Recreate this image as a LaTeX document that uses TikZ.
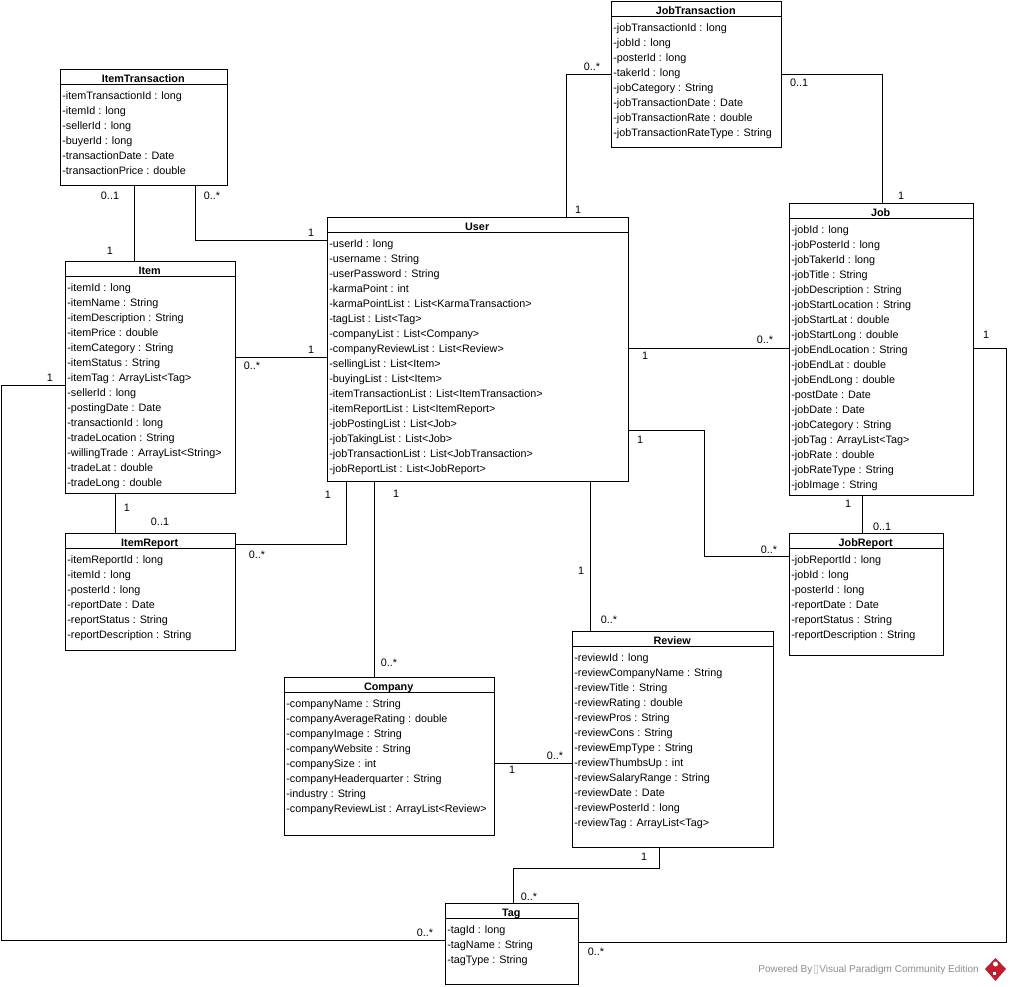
\documentclass[tikz,border=0pt]{standalone}
\usepackage{fontspec}
\setmainfont{Liberation Sans}
\usetikzlibrary{positioning}
\definecolor{logored}{RGB}{190,30,45}
\definecolor{powergray}{RGB}{140,140,140}

\tikzset{
	classbox/.style={draw, line width=.75pt, rectangle, inner sep=0pt, outer sep=0pt, anchor=north west},
	classtitle/.style={font=\fontsize{8.1}{11.25}\selectfont\bfseries, inner sep=0pt, outer sep=0pt, text height=6pt, text depth=1.7pt, minimum height=7.75pt, xshift=-.6pt},
	attrlist/.style={font=\fontsize{8.1}{11.25}\selectfont, align=left, inner sep=0pt},
	mult/.style={font=\fontsize{8.1}{10}\selectfont, inner sep=0pt},
	assoc/.style={line width=.75pt}
}

\begin{document}
\begin{tikzpicture}[x=.75pt,y=-.75pt,node distance=0pt]
	\useasboundingbox (0,0) rectangle (1011,987);
	
	% item transaction
	\node[classbox, minimum width=125.25pt, minimum height=87pt] (itemtrans) at (60.5,69.5) {};
	\node[classtitle, below=3.5pt of itemtrans.north] (itemtranstitle) {ItemTransaction};
	\node[attrlist, below right=16.6pt and 1.2pt of itemtrans.north west] (itemtransattrs) {-itemTransactionId : long\\-itemId : long\\-sellerId : long\\-buyerId : long\\-transactionDate : Date\\-transactionPrice : double};
	\draw[assoc] (itemtrans.west |- itemtranstitle.south) -- (itemtrans.east |- itemtranstitle.south);
	
	% item
	\node[classbox, minimum width=127.5pt, minimum height=174pt] (item) at (65.5,261.5) {};
	\node[classtitle, below=3.5pt of item.north] (itemtitle) {Item};
	\node[attrlist, below right=16.6pt and 1.2pt of item.north west] (itemattrs) {-itemId : long\\-itemName : String\\-itemDescription : String\\-itemPrice : double\\-itemCategory : String\\-itemStatus : String\\-itemTag : ArrayList<Tag>\\-sellerId : long\\-postingDate : Date\\-transactionId : long\\-tradeLocation : String\\-willingTrade : ArrayList<String>\\-tradeLat : double\\-tradeLong : double};
	\draw[assoc] (item.west |- itemtitle.south) -- (item.east |- itemtitle.south);
	
	% item report
	\node[classbox, minimum width=127.5pt, minimum height=87.75pt] (itemreport) at (65.5,533.5) {};
	\node[classtitle, below=3.5pt of itemreport.north] (itemreporttitle) {ItemReport};
	\node[attrlist, below right=16.6pt and 1.2pt of itemreport.north west] (itemreportattrs) {-itemReportId : long\\-itemId : long\\-posterId : long\\-reportDate : Date\\-reportStatus : String\\-reportDescription : String};
	\draw[assoc] (itemreport.west |- itemreporttitle.south) -- (itemreport.east |- itemreporttitle.south);
	
	% user
	\node[classbox, minimum width=225.75pt, minimum height=198pt] (user) at (327.5,217.5) {};
	\node[classtitle, below=3.5pt of user.north] (usertitle) {User};
	\node[attrlist, below right=16.6pt and 1.2pt of user.north west] (userattrs) {-userId : long\\-username : String\\-userPassword : String\\-karmaPoint : int\\-karmaPointList : List<KarmaTransaction>\\-tagList : List<Tag>\\-companyList : List<Company>\\-companyReviewList : List<Review>\\-sellingList : List<Item>\\-buyingList : List<Item>\\-itemTransactionList : List<ItemTransaction>\\-itemReportList : List<ItemReport>\\-jobPostingList : List<Job>\\-jobTakingList : List<Job>\\-jobTransactionList : List<JobTransaction>\\-jobReportList : List<JobReport>};
	\draw[assoc] (user.west |- usertitle.south) -- (user.east |- usertitle.south);
	
	% job transaction
	\node[classbox, minimum width=127.5pt, minimum height=109.5pt] (jobtrans) at (611.5,1.5) {};
	\node[classtitle, below=3.5pt of jobtrans.north] (jobtranstitle) {JobTransaction};
	\node[attrlist, below right=16.6pt and 1.2pt of jobtrans.north west] (jobtransattrs) {-jobTransactionId : long\\-jobId : long\\-posterId : long\\-takerId : long\\-jobCategory : String\\-jobTransactionDate : Date\\-jobTransactionRate : double\\-jobTransactionRateType : String};
	\draw[assoc] (jobtrans.west |- jobtranstitle.south) -- (jobtrans.east |- jobtranstitle.south);
	
	% job
	\node[classbox, minimum width=138pt, minimum height=219pt] (job) at (789.5,203.5) {};
	\node[classtitle, below=3.5pt of job.north] (jobtitle) {Job};
	\node[attrlist, below right=16.6pt and 1.2pt of job.north west] (jobattrs) {-jobId : long\\-jobPosterId : long\\-jobTakerId : long\\-jobTitle : String\\-jobDescription : String\\-jobStartLocation : String\\-jobStartLat : double\\-jobStartLong : double\\-jobEndLocation : String\\-jobEndLat : double\\-jobEndLong : double\\-postDate : Date\\-jobDate : Date\\-jobCategory : String\\-jobTag : ArrayList<Tag>\\-jobRate : double\\-jobRateType : String\\-jobImage : String};
	\draw[assoc] (job.west |- jobtitle.south) -- (job.east |- jobtitle.south);
	
	% job report
	\node[classbox, minimum width=115.5pt, minimum height=91.5pt] (jobreport) at (789.5,533.5) {};
	\node[classtitle, below=3.5pt of jobreport.north] (jobreporttitle) {JobReport};
	\node[attrlist, below right=16.6pt and 1.2pt of jobreport.north west] (jobreportattrs) {-jobReportId : long\\-jobId : long\\-posterId : long\\-reportDate : Date\\-reportStatus : String\\-reportDescription : String};
	\draw[assoc] (jobreport.west |- jobreporttitle.south) -- (jobreport.east |- jobreporttitle.south);
	
	% company
	\node[classbox, minimum width=157.5pt, minimum height=118.5pt] (company) at (284.5,677.5) {};
	\node[classtitle, below=3.5pt of company.north] (companytitle) {Company};
	\node[attrlist, below right=16.6pt and 1.2pt of company.north west] (companyattrs) {-companyName : String\\-companyAverageRating : double\\-companyImage : String\\-companyWebsite : String\\-companySize : int\\-companyHeaderquarter : String\\-industry : String\\-companyReviewList : ArrayList<Review>};
	\draw[assoc] (company.west |- companytitle.south) -- (company.east |- companytitle.south);
	
	% review
	\node[classbox, minimum width=150.75pt, minimum height=162pt] (review) at (572.5,631.5) {};
	\node[classtitle, below=3.5pt of review.north] (reviewtitle) {Review};
	\node[attrlist, below right=16.6pt and 1.2pt of review.north west] (reviewattrs) {-reviewId : long\\-reviewCompanyName : String\\-reviewTitle : String\\-reviewRating : double\\-reviewPros : String\\-reviewCons : String\\-reviewEmpType : String\\-reviewThumbsUp : int\\-reviewSalaryRange : String\\-reviewDate : Date\\-reviewPosterId : long\\-reviewTag : ArrayList<Tag>};
	\draw[assoc] (review.west |- reviewtitle.south) -- (review.east |- reviewtitle.south);
	
	% tag
	\node[classbox, minimum width=99.75pt, minimum height=60.75pt] (tag) at (445.5,903.5) {};
	\node[classtitle, below=3.5pt of tag.north] (tagtitle) {Tag};
	\node[attrlist, below right=16.6pt and 1.2pt of tag.north west] (tagattrs) {-tagId : long\\-tagName : String\\-tagType : String};
	\draw[assoc] (tag.west |- tagtitle.south) -- (tag.east |- tagtitle.south);
	
	% connectors
	\draw[assoc] (itemtrans.south -| 134.5,0) -- (item.north -| 134.5,0);
	\draw[assoc] (itemtrans.south -| 195.5,0) |- (user.west |- 0,240.5);
	\draw[assoc] (item.east |- 0,357.5) -- (user.west |- 0,357.5);
	\draw[assoc] (item.south -| 115.5,0) -- (itemreport.north -| 115.5,0);
	\draw[assoc] (itemreport.east |- 0,544.5) -| (user.south -| 346.5,0);
	\draw[assoc] (user.north -| 566.5,0) |- (jobtrans.west |- 0,74.5);
	\draw[assoc] (jobtrans.east |- 0,74.5) -| (job.north -| 882.5,0);
	\draw[assoc] (user.east |- 0,348.5) -- (job.west |- 0,348.5);
	\draw[assoc] (user.east |- 0,430.5) -- (704.5,430.5) -- (704.5,556.5) -- (jobreport.west |- 0,556.5);
	\draw[assoc] (user.south -| 374.5,0) -- (company.north -| 374.5,0);
	\draw[assoc] (user.south -| 590.5,0) -- (review.north -| 590.5,0);
	\draw[assoc] (company.east |- 0,763.5) -- (review.west |- 0,763.5);
	\draw[assoc] (job.south -| 862.5,0) -- (jobreport.north -| 862.5,0);
	\draw[assoc] (review.south -| 659.5,0) -- (659.5,868.5) -- (513.5,868.5) -- (tag.north -| 513.5,0);
	\draw[assoc] (item.west |- 0,385.5) -- (1.5,385.5) -- (1.5,940.5) -- (tag.west |- 0,940.5);
	\draw[assoc] (job.east |- 0,348.5) -- (1006.5,348.5) -- (1006.5,942.5) -- (tag.east |- 0,942.5);
	
	% multiplicities
	\node[mult] (mita) at (110,196) {0..1};
	\node[mult] (mitb) at (212,196) {0..*};
	\node[mult] (mitc) at (110,251) {1};
	\node[mult] (mitd) at (311,233) {1};
	\node[mult] (mia) at (252,366) {0..*};
	\node[mult] (mib) at (311,350) {1};
	\node[mult] (mic) at (50,378) {1};
	\node[mult] (mid) at (127,508) {1};
	\node[mult] (mie) at (160,522) {0..1};
	\node[mult] (mra) at (328,495) {1};
	\node[mult] (mrb) at (257,555) {0..*};
	\node[mult] (mca) at (396,494) {1};
	\node[mult] (mcb) at (389,663) {0..*};
	\node[mult] (mja) at (578,210) {1};
	\node[mult] (mjb) at (592,67) {0..*};
	\node[mult] (mjc) at (799,83) {0..1};
	\node[mult] (mjd) at (901,196) {1};
	\node[mult] (mje) at (645,356) {1};
	\node[mult] (mjf) at (765,340) {0..*};
	\node[mult] (mjg) at (640,440) {1};
	\node[mult] (mjh) at (769,550) {0..*};
	\node[mult] (mji) at (986,335) {1};
	\node[mult] (mjj) at (848,504) {1};
	\node[mult] (mjk) at (882,527) {0..1};
	\node[mult] (mva) at (581,571) {1};
	\node[mult] (mvb) at (609,620) {0..*};
	\node[mult] (mvc) at (512,770) {1};
	\node[mult] (mvd) at (555,756) {0..*};
	\node[mult] (mve) at (644,857) {1};
	\node[mult] (mvf) at (529,897) {0..*};
	\node[mult] (mta) at (425,933) {0..*};
	\node[mult] (mtb) at (596,952) {0..*};
	
	% footer
	\fboxsep=0pt
	\node[font=\fontsize{7.5}{9}\selectfont, text=powergray, inner sep=0pt, anchor=east] (powered) at (979,970) {Powered By\,\fcolorbox{powergray!40}{white}{\rule{0pt}{5pt}\rule{2pt}{0pt}}\,Visual Paradigm Community Edition};
	\fill[logored] (995.5,958) -- (1006,969) -- (995.5,981) -- (985,969) -- cycle;
	\fill[white] (995.5,964) circle (2.5);
	\fill[white] (993,972) rectangle (996,975);
\end{tikzpicture}
\end{document}
